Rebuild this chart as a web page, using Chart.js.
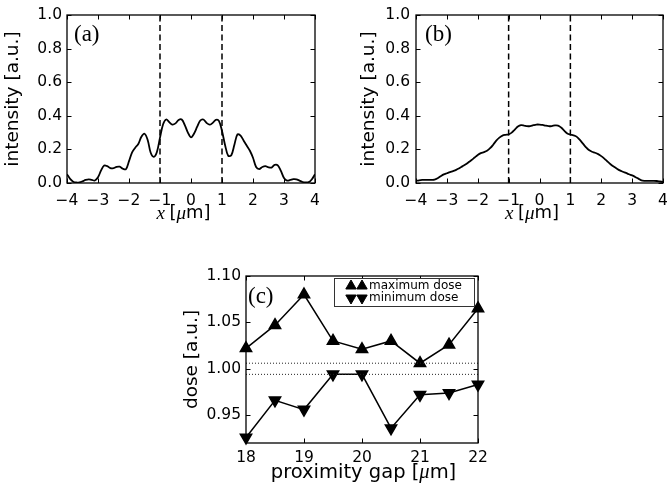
<!DOCTYPE html>
<html>
<head>
<meta charset="utf-8">
<script src="https://cdn.jsdelivr.net/npm/chart.js@4.4.0/dist/chart.umd.min.js"></script>
<style>
  html, body { margin: 0; padding: 0; background: #fff; }
  #figure { position: relative; width: 669px; height: 490px; }
  #figure canvas { position: absolute; left: 0; top: 0; }
</style>
</head>
<body>
<div id="figure">
  <canvas id="panelA" width="669" height="490"></canvas>
  <canvas id="panelB" width="669" height="490"></canvas>
  <canvas id="panelC" width="669" height="490"></canvas>
</div>
<script>
// lateral position in micrometres
const positionX = [
  -4.0, -3.9, -3.8, -3.7, -3.6, -3.5, -3.4, -3.3, -3.2, -3.1,
  -3.0, -2.9, -2.8, -2.7, -2.6, -2.5, -2.4, -2.3, -2.2, -2.1,
  -2.0, -1.9, -1.8, -1.7, -1.6, -1.5, -1.4, -1.3, -1.2, -1.1,
  -1.0, -0.9, -0.8, -0.7, -0.6, -0.5, -0.4, -0.3, -0.2, -0.1,
  0.0,
  0.1, 0.2, 0.3, 0.4, 0.5, 0.6, 0.7, 0.8, 0.9, 1.0,
  1.1, 1.2, 1.3, 1.4, 1.5, 1.6, 1.7, 1.8, 1.9, 2.0,
  2.1, 2.2, 2.3, 2.4, 2.5, 2.6, 2.7, 2.8, 2.9, 3.0,
  3.1, 3.2, 3.3, 3.4, 3.5, 3.6, 3.7, 3.8, 3.9, 4.0
];

const intensityA = [
  0.052, 0.025, 0.008, 0.003, 0.004, 0.010, 0.018, 0.022, 0.018, 0.015,
  0.034, 0.075, 0.104, 0.100, 0.088, 0.088, 0.096, 0.097, 0.085, 0.082,
  0.130, 0.183, 0.210, 0.232, 0.275, 0.293, 0.258, 0.180, 0.156, 0.185,
  0.270, 0.350, 0.378, 0.362, 0.348, 0.355, 0.375, 0.378, 0.345, 0.300,
  0.272,
  0.295, 0.335, 0.372, 0.378, 0.358, 0.347, 0.358, 0.376, 0.370, 0.310,
  0.225, 0.162, 0.165, 0.228, 0.290, 0.282, 0.252, 0.222, 0.192, 0.150,
  0.095, 0.083, 0.095, 0.100, 0.093, 0.092, 0.108, 0.105, 0.072, 0.030,
  0.014, 0.018, 0.023, 0.022, 0.014, 0.006, 0.003, 0.005, 0.022, 0.052
];

const intensityB = [
  0.013, 0.016, 0.018, 0.019, 0.019, 0.019, 0.020, 0.028, 0.040, 0.051,
  0.058, 0.065, 0.071, 0.078, 0.088, 0.099, 0.110, 0.123, 0.137, 0.152,
  0.167, 0.178, 0.184, 0.192, 0.207, 0.228, 0.252, 0.270, 0.282, 0.287,
  0.290, 0.300, 0.318, 0.336, 0.344, 0.342, 0.338, 0.339, 0.344, 0.348,
  0.348,
  0.346, 0.341, 0.338, 0.339, 0.343, 0.342, 0.330, 0.312, 0.295, 0.288,
  0.284, 0.276, 0.258, 0.236, 0.214, 0.196, 0.186, 0.180, 0.172, 0.160,
  0.145, 0.128, 0.112, 0.098, 0.086, 0.075, 0.067, 0.060, 0.052, 0.045,
  0.036, 0.026, 0.016, 0.013, 0.013, 0.013, 0.013, 0.012, 0.009, 0.006
];

// edges of the exposed line
const maskEdges = [-1, 1];

// proximity gap in micrometres
const gap = [18, 18.5, 19, 19.5, 20, 20.5, 21, 21.5, 22];
const maxDose = [1.022, 1.047, 1.080, 1.030, 1.021, 1.030, 1.006, 1.026, 1.065];
const minDose = [0.926, 0.966, 0.956, 0.994, 0.994, 0.936, 0.972, 0.974, 0.983];
const doseBand = [1.006, 0.994];
const doseTicks = [0.95, 1.00, 1.05, 1.10];

const SANS = 'DejaVu Sans';
const SERIF = 'Liberation Serif';
const TICK_FONT = { family: SANS, size: 15.5 };
const LABEL_FONT = { family: SANS, size: 18.5 };
const TICK_LEN = 4.5;

const minus = (v) => (v < 0 ? '\u2212' + Math.abs(v) : String(v));

// frame, inward ticks on all four sides, panel tag and x-axis title
const makeFrame = (tag, tagDx, tagDy, titleParts, titleDx, titleDy, titleSize) => ({
  id: 'axesFrame',
  afterDatasetsDraw(chart) {
    const { ctx, chartArea: a, scales: { x, y } } = chart;
    ctx.save();
    ctx.strokeStyle = '#000';
    ctx.lineWidth = 1;
    ctx.beginPath();
    for (const t of x.ticks) {
      const px = Math.round(x.getPixelForValue(t.value)) + 0.5;
      ctx.moveTo(px, a.bottom);
      ctx.lineTo(px, a.bottom - TICK_LEN);
      ctx.moveTo(px, a.top);
      ctx.lineTo(px, a.top + TICK_LEN);
    }
    for (const t of y.ticks) {
      const py = Math.round(y.getPixelForValue(t.value)) + 0.5;
      ctx.moveTo(a.left, py);
      ctx.lineTo(a.left + TICK_LEN, py);
      ctx.moveTo(a.right, py);
      ctx.lineTo(a.right - TICK_LEN, py);
    }
    ctx.stroke();
    ctx.lineWidth = 1.3;
    ctx.strokeRect(a.left, a.top, a.right - a.left, a.bottom - a.top);

    ctx.fillStyle = '#000';
    ctx.textBaseline = 'middle';
    ctx.textAlign = 'left';
    ctx.font = '23px "' + SERIF + '"';
    ctx.fillText(tag, a.left + tagDx, a.top + tagDy);

    const fonts = {
      sans: titleSize + 'px "' + SANS + '"',
      math: 'italic ' + (titleSize + 1) + 'px "' + SERIF + '"'
    };
    let total = 0;
    for (const p of titleParts) {
      ctx.font = fonts[p.font];
      total += ctx.measureText(p.text).width;
    }
    let cx = (a.left + a.right) / 2 + titleDx - total / 2;
    for (const p of titleParts) {
      ctx.font = fonts[p.font];
      ctx.fillText(p.text, cx, a.bottom + titleDy);
      cx += ctx.measureText(p.text).width;
    }
    ctx.restore();
  }
});

// boxed legend with a pair of markers per entry
const doseLegend = {
  id: 'doseLegend',
  afterDatasetsDraw(chart) {
    const { ctx, chartArea: a } = chart;
    const right = a.right - 3;
    const top = a.top + 2;
    const w = 141;
    const h = 29;
    ctx.save();
    ctx.fillStyle = '#fff';
    ctx.fillRect(right - w, top, w, h);
    ctx.strokeStyle = '#333';
    ctx.lineWidth = 1;
    ctx.strokeRect(right - w + 0.5, top + 0.5, w - 1, h - 1);

    const rows = [
      { text: 'maximum dose', rotation: 0 },
      { text: 'minimum dose', rotation: 180 }
    ];
    rows.forEach((row, i) => {
      const ry = top + 8 + i * 12;
      ctx.fillStyle = '#000';
      ctx.strokeStyle = '#000';
      for (const mx of [right - w + 17, right - w + 28]) {
        Chart.helpers.drawPoint(ctx, {
          pointStyle: 'triangle', rotation: row.rotation, radius: 6, borderWidth: 1
        }, mx, ry);
      }
      ctx.fillStyle = '#000';
      ctx.font = '12px "' + SANS + '"';
      ctx.textBaseline = 'middle';
      ctx.textAlign = 'left';
      ctx.fillText(row.text, right - w + 35, ry);
    });
    ctx.restore();
  }
};

const axisOptions = (yWidth, xPad, yPad) => ({
  x: {
    type: 'linear',
    grid: { display: false, drawTicks: false },
    border: { display: false },
    ticks: { font: TICK_FONT, color: '#000', padding: xPad, maxRotation: 0, autoSkip: false },
    afterFit: (scale) => {
      scale.height = 40;
      scale.paddingLeft = 0;
      scale.paddingRight = 0;
    }
  },
  y: {
    type: 'linear',
    grid: { display: false, drawTicks: false },
    border: { display: false },
    ticks: { font: TICK_FONT, color: '#000', padding: yPad },
    title: { display: true, font: LABEL_FONT, color: '#000', padding: 0 },
    afterFit: (scale) => {
      scale.width = yWidth;
      scale.paddingTop = 0;
      scale.paddingBottom = 0;
    }
  }
});

const profileChart = (id, values, tag, tagDx, padding, yWidth, yPad) => {
  const scales = axisOptions(yWidth, 8.5, yPad);
  scales.x.min = -4;
  scales.x.max = 4;
  scales.x.ticks.stepSize = 1;
  scales.x.ticks.callback = (v) => minus(v);
  scales.y.min = 0;
  scales.y.max = 1;
  scales.y.ticks.stepSize = 0.2;
  scales.y.ticks.callback = (v) => v.toFixed(1);
  scales.y.title.text = 'intensity [a.u.]';

  const edgeSets = maskEdges.map((e) => ({
    data: [{ x: e, y: 0 }, { x: e, y: 1 }],
    borderColor: '#000',
    borderWidth: 1.5,
    borderDash: [6, 3.5],
    pointRadius: 0
  }));

  return new Chart(document.getElementById(id), {
    type: 'line',
    data: {
      datasets: [
        {
          data: positionX.map((x, i) => ({ x, y: values[i] })),
          borderColor: '#000',
          borderWidth: 1.8,
          pointRadius: 0,
          tension: 0.35
        },
        ...edgeSets
      ]
    },
    options: {
      responsive: false,
      animation: false,
      events: [],
      layout: { padding },
      plugins: { legend: { display: false }, tooltip: { enabled: false } },
      scales
    },
    plugins: [makeFrame(tag, tagDx, 20, [
      { text: 'x', font: 'math' },
      { text: '\u2005[', font: 'sans' },
      { text: '\u03bc', font: 'math' },
      { text: 'm]', font: 'sans' }
    ], -7.5, 30.5, 18)]
  });
};

profileChart('panelA', intensityA, '(a)', 7,
  { left: 2.2, right: 354, top: 15, bottom: 267 }, 64.8, 5);
profileChart('panelB', intensityB, '(b)', 9,
  { left: 357.9, right: 6, top: 15, bottom: 267 }, 58.1, 6);

const doseScales = axisOptions(64.6, 5.4, 5);
doseScales.x.min = 18;
doseScales.x.max = 22;
doseScales.x.ticks.stepSize = 1;
doseScales.y.min = 0.92;
doseScales.y.max = 1.10;
doseScales.y.afterBuildTicks = (scale) => {
  scale.ticks = doseTicks.map((v) => ({ value: v }));
};
doseScales.y.ticks.callback = (v) => v.toFixed(2);
doseScales.y.title.text = 'dose [a.u.]';

new Chart(document.getElementById('panelC'), {
  type: 'line',
  data: {
    datasets: [
      ...doseBand.map((d) => ({
        data: [{ x: 18, y: d }, { x: 22, y: d }],
        borderColor: '#222',
        borderWidth: 1,
        borderDash: [1, 2],
        pointRadius: 0
      })),
      {
        data: gap.map((g, i) => ({ x: g, y: maxDose[i] })),
        borderColor: '#000',
        backgroundColor: '#000',
        borderWidth: 1.5,
        pointStyle: 'triangle',
        pointRadius: 6.5,
        pointRotation: 0,
        tension: 0,
        clip: false
      },
      {
        data: gap.map((g, i) => ({ x: g, y: minDose[i] })),
        borderColor: '#000',
        backgroundColor: '#000',
        borderWidth: 1.5,
        pointStyle: 'triangle',
        pointRadius: 6.5,
        pointRotation: 180,
        tension: 0,
        clip: false
      }
    ]
  },
  options: {
    responsive: false,
    animation: false,
    events: [],
    layout: { padding: { left: 181.4, right: 191, top: 276, bottom: 7 } },
    plugins: { legend: { display: false }, tooltip: { enabled: false } },
    scales: doseScales
  },
  plugins: [
    makeFrame('(c)', 2, 21, [
      { text: 'proximity gap [', font: 'sans' },
      { text: '\u03bc', font: 'math' },
      { text: 'm]', font: 'sans' }
    ], 1.5, 29.5, 19.5),
    doseLegend
  ]
});
</script>
</body>
</html>
